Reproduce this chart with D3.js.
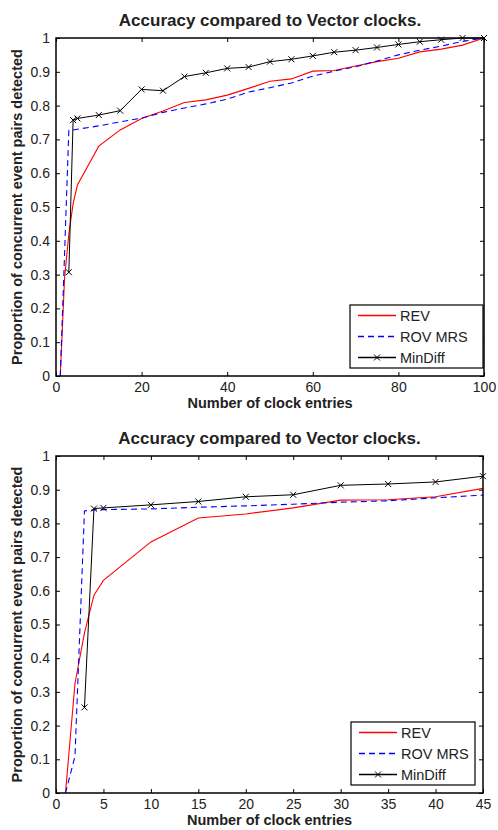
<!DOCTYPE html>
<html>
<head>
<meta charset="utf-8">
<script src="https://cdn.jsdelivr.net/npm/d3@7"></script>
<style>
  body { margin: 0; background: #fff; }
  text { font-family: "Liberation Sans", Arial, Helvetica, sans-serif; fill: #222; }
</style>
</head>
<body>
<div id="chart"></div>
<script>
// top panel: x = number of clock entries (0..100)
var xTop = [1, 2, 3, 4, 5, 10, 15, 20, 25, 30, 35, 40, 45, 50, 55, 60, 65, 70, 75, 80, 85, 90, 95, 100];
var revTop = [0, 0.29, 0.42, 0.51, 0.565, 0.68, 0.728, 0.762, 0.784, 0.809, 0.817, 0.831, 0.851, 0.872, 0.879, 0.902, 0.904, 0.917, 0.930, 0.940, 0.959, 0.967, 0.979, 1.0];
var rovTop = [0, 0.36, 0.727, 0.728, 0.730, 0.74, 0.752, 0.763, 0.780, 0.793, 0.805, 0.819, 0.84, 0.853, 0.867, 0.887, 0.902, 0.915, 0.932, 0.950, 0.964, 0.976, 0.990, 1.0];
var xMinTop = [3, 4, 5, 10, 15, 20, 25, 30, 35, 40, 45, 50, 55, 60, 65, 70, 75, 80, 85, 90, 95, 100];
var minTop = [0.307, 0.757, 0.762, 0.772, 0.785, 0.848, 0.844, 0.886, 0.897, 0.910, 0.914, 0.930, 0.937, 0.947, 0.958, 0.964, 0.972, 0.981, 0.989, 0.995, 1.0, 1.0];

// bottom panel: x = number of clock entries (0..45)
var xBot = [1, 2, 3, 4, 5, 10, 15, 20, 25, 30, 35, 40, 45];
var revBot = [0, 0.325, 0.475, 0.587, 0.631, 0.745, 0.816, 0.828, 0.846, 0.869, 0.870, 0.879, 0.904];
var rovBot = [0, 0.109, 0.837, 0.840, 0.841, 0.843, 0.848, 0.852, 0.857, 0.863, 0.867, 0.876, 0.884];
var xMinBot = [3, 4, 5, 10, 15, 20, 25, 30, 35, 40, 45];
var minBot = [0.254, 0.844, 0.846, 0.855, 0.865, 0.879, 0.885, 0.913, 0.917, 0.923, 0.940];

var yTicks = [0, 0.1, 0.2, 0.3, 0.4, 0.5, 0.6, 0.7, 0.8, 0.9, 1];
var xTicksTop = [0, 20, 40, 60, 80, 100];
var xTicksBot = [0, 5, 10, 15, 20, 25, 30, 35, 40, 45];
var seriesNames = ["REV", "ROV MRS", "MinDiff"];
var seriesColors = ["#ff0000", "#0000ff", "#000000"];

var title = "Accuracy compared to Vector clocks.";
var xTitle = "Number of clock entries";
var yTitle = "Proportion of concurrent event pairs detected";

var svg = d3.select("#chart").append("svg")
    .attr("width", 498)
    .attr("height", 830);

function zip(xs, ys) {
  return xs.map(function(x, i) { return [x, ys[i]]; });
}

function drawPanel(p) {
  var x = d3.scaleLinear().domain([0, p.xMax]).range([p.left, p.right]);
  var y = d3.scaleLinear().domain([0, 1]).range([p.bottom, p.top]);
  var g = svg.append("g");

  // title
  g.append("text")
      .attr("x", (p.left + p.right) / 2)
      .attr("y", p.top - 12)
      .attr("text-anchor", "middle")
      .style("font-size", "17px")
      .style("font-weight", "bold")
      .text(title);

  // axes, ticks inward on all sides
  var fmt = function(d) { return d3.format("")(+d.toFixed(1)); };
  var ax = g.append("g")
      .attr("transform", "translate(0," + p.bottom + ")")
      .call(d3.axisBottom(x).tickValues(p.xTicks).tickSize(-4).tickSizeOuter(0).tickPadding(6));
  ax.selectAll("text").style("font-size", "14px").attr("fill", "#222");
  var ay = g.append("g")
      .attr("transform", "translate(" + p.left + ",0)")
      .call(d3.axisLeft(y).tickValues(yTicks).tickFormat(fmt).tickSize(-4).tickSizeOuter(0).tickPadding(6));
  ay.selectAll("text").style("font-size", "14px").attr("fill", "#222");
  g.append("g")
      .attr("transform", "translate(0," + p.top + ")")
      .call(d3.axisTop(x).tickValues(p.xTicks).tickSize(-4).tickSizeOuter(0).tickFormat(""));
  g.append("g")
      .attr("transform", "translate(" + p.right + ",0)")
      .call(d3.axisRight(y).tickValues(yTicks).tickSize(-4).tickSizeOuter(0).tickFormat(""));
  g.selectAll(".domain").remove();
  g.selectAll(".tick line").attr("stroke", "#000");
  g.selectAll(".tick text").attr("font-family", null);

  // axis labels
  g.append("text")
      .attr("x", (p.left + p.right) / 2)
      .attr("y", p.bottom + 32)
      .attr("text-anchor", "middle")
      .style("font-size", "14.5px")
      .style("font-weight", "bold")
      .text(xTitle);
  g.append("text")
      .attr("transform", "translate(22," + (p.top + p.bottom) / 2 + ") rotate(-90)")
      .attr("text-anchor", "middle")
      .style("font-size", "14.5px")
      .style("font-weight", "bold")
      .text(yTitle);

  var line = d3.line()
      .x(function(d) { return x(d[0]); })
      .y(function(d) { return y(d[1]); });

  g.append("path")
      .datum(zip(p.xs, p.rev))
      .attr("d", line)
      .attr("fill", "none")
      .style("stroke", seriesColors[0])
      .attr("stroke-width", 1.1);
  g.append("path")
      .datum(zip(p.xs, p.rov))
      .attr("d", line)
      .attr("fill", "none")
      .style("stroke", seriesColors[1])
      .attr("stroke-width", 1.1)
      .attr("stroke-dasharray", "6,4");
  var minData = zip(p.xMin, p.min);
  g.append("path")
      .datum(minData)
      .attr("d", line)
      .attr("fill", "none")
      .style("stroke", seriesColors[2])
      .attr("stroke-width", 1);
  g.selectAll(".mk")
      .data(minData)
      .enter().append("path")
      .attr("class", "mk")
      .attr("transform", function(d) { return "translate(" + x(d[0]) + "," + y(d[1]) + ")"; })
      .attr("d", "M-3,-3L3,3M-3,3L3,-3")
      .style("stroke", seriesColors[2])
      .attr("stroke-width", 1);

  // box
  g.append("rect")
      .attr("x", p.left)
      .attr("y", p.top)
      .attr("width", p.right - p.left)
      .attr("height", p.bottom - p.top)
      .attr("fill", "none")
      .attr("stroke", "#000")
      .attr("stroke-width", 1.5);

  // legend
  var lg = g.append("g");
  lg.append("rect")
      .attr("x", p.leg[0])
      .attr("y", p.leg[1])
      .attr("width", p.leg[2] - p.leg[0])
      .attr("height", p.leg[3] - p.leg[1])
      .attr("fill", "#fff")
      .attr("stroke", "#000")
      .attr("stroke-width", 1.2);
  var rowH = (p.leg[3] - p.leg[1]) / 3;
  seriesNames.forEach(function(name, i) {
    var cy = p.leg[1] + rowH * (i + 0.5);
    var it = lg.append("g").attr("transform", "translate(" + p.leg[0] + "," + cy + ")");
    it.append("line")
        .attr("x1", 8).attr("x2", 46)
        .attr("y1", 0).attr("y2", 0)
        .style("stroke", seriesColors[i])
        .attr("stroke-width", 1.4)
        .attr("stroke-dasharray", i == 1 ? "6,4" : null);
    if (i == 2) {
      it.append("path")
          .attr("transform", "translate(27,0)")
          .attr("d", "M-3,-3L3,3M-3,3L3,-3")
          .style("stroke", seriesColors[2]);
    }
    it.append("text")
        .attr("x", 50)
        .attr("dy", "0.36em")
        .style("font-size", "14.5px")
        .text(name);
  });
}

drawPanel({left: 56, right: 484, top: 38, bottom: 376, xMax: 100, xTicks: xTicksTop,
  xs: xTop, rev: revTop, rov: rovTop, xMin: xMinTop, min: minTop, leg: [350, 305, 483, 368]});
drawPanel({left: 56, right: 483, top: 456, bottom: 793, xMax: 45, xTicks: xTicksBot,
  xs: xBot, rev: revBot, rov: rovBot, xMin: xMinBot, min: minBot, leg: [351, 722, 475, 785]});
</script>
</body>
</html>
